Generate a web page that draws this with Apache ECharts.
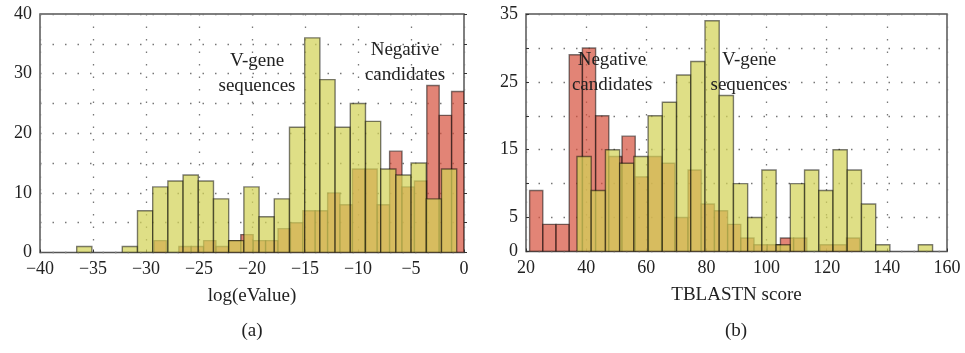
<!DOCTYPE html>
<html>
<head>
<meta charset="utf-8">
<script src="https://cdn.jsdelivr.net/npm/echarts@6/dist/echarts.min.js"></script>
<style>
  html, body { margin: 0; background: #fff; }
  #chart { width: 965px; height: 353px; }
</style>
</head>
<body>
<div id="chart"></div>
<script>
// (a) log(eValue): bin start, bin width, counts per bin
const evalVgeneStart = -36.54;
const evalVgeneWidth = 1.434;
const evalVgeneCounts = [1, 0, 0, 1, 7, 11, 12, 13, 12, 9, 2, 11, 6, 9, 21, 36, 29, 21, 25, 22, 14, 13, 15, 9, 14];
const evalNegStart = -29.245;
const evalNegWidth = 1.1698;
const evalNegCounts = [2, 0, 1, 1, 2, 1, 2, 3, 2, 2, 4, 5, 7, 7, 10, 8, 14, 14, 8, 17, 11, 12, 28, 23, 27];

// (b) TBLASTN score
const scoreVgeneStart = 36.95;
const scoreVgeneWidth = 4.73;
const scoreVgeneCounts = [14, 9, 15, 13, 14, 20, 22, 26, 28, 34, 23, 10, 5, 12, 1, 10, 12, 9, 15, 12, 7, 1, 0, 0, 1];
const scoreNegStart = 21.2;
const scoreNegWidth = 4.39;
const scoreNegCounts = [9, 4, 4, 29, 30, 20, 14, 17, 11, 14, 13, 5, 12, 7, 6, 4, 2, 1, 1, 2, 2, 0, 1, 1, 2];

const FONT = "Liberation Serif";
const RED = "rgba(214,80,60,0.7)";
const YELLOW = "rgba(211,211,88,0.72)";
const EDGE = "rgba(0,0,0,0.5)";

function bins(start, width, counts) {
  return counts.map((c, i) => [start + i * width, start + (i + 1) * width, c]);
}

function histSeries(idx, data, fill) {
  return {
    type: "custom",
    xAxisIndex: idx,
    yAxisIndex: idx,
    clip: true,
    encode: { x: [0, 1], y: 2 },
    data: data,
    renderItem: (params, api) => {
      const h = api.value(2);
      if (!h) return null;
      const a = api.coord([api.value(0), h]);
      const b = api.coord([api.value(1), 0]);
      return {
        type: "rect",
        shape: { x: a[0], y: a[1], width: b[0] - a[0], height: b[1] - a[1] },
        style: { fill: fill, stroke: EDGE, lineWidth: 1.4 },
      };
    },
  };
}

const minus = (v) => String(v).replace("-", "\u2212");
const dots = { color: "#777", width: 1.3, type: [1.5, 11] };

function xAxis(idx, min, max, interval, name) {
  return {
    type: "value",
    gridIndex: idx,
    min: min,
    max: max,
    interval: interval,
    name: name,
    nameLocation: "middle",
    nameGap: 34,
    nameTextStyle: { fontFamily: FONT, fontSize: 19, color: "#222" },
    axisLine: { show: false },
    axisTick: { show: true, inside: true, length: 3, lineStyle: { color: "#333" } },
    axisLabel: { fontFamily: FONT, fontSize: 18, color: "#222", margin: 8, formatter: minus },
    splitLine: { show: true, lineStyle: dots },
  };
}

function yAxis(idx, max, labels) {
  return {
    type: "value",
    gridIndex: idx,
    min: 0,
    max: max,
    interval: 5,
    axisLine: { show: false },
    axisTick: { show: true, inside: true, length: 3, lineStyle: { color: "#333" } },
    axisLabel: {
      fontFamily: FONT,
      fontSize: 18,
      color: "#222",
      margin: 8,
      formatter: (v) => (labels.includes(v) ? String(v) : ""),
    },
    splitLine: { show: true, lineStyle: dots },
  };
}

function label(text, x, y) {
  return {
    type: "text",
    x: x,
    y: y,
    z: 100,
    style: {
      text: text,
      fill: "#222",
      font: "19px " + FONT,
      textAlign: "center",
      textVerticalAlign: "middle",
      lineHeight: 25,
    },
  };
}

const chart = echarts.init(document.getElementById("chart"));
chart.setOption({
  animation: false,
  grid: [
    { left: 40, top: 14, width: 424, height: 238.5, show: true, borderColor: "#555", borderWidth: 1.5 },
    { left: 526, top: 14, width: 421, height: 237.5, show: true, borderColor: "#555", borderWidth: 1.5 },
  ],
  xAxis: [
    xAxis(0, -40, 0, 5, "log(eValue)"),
    xAxis(1, 20, 160, 20, "TBLASTN score"),
  ],
  yAxis: [
    yAxis(0, 40, [0, 10, 20, 30, 40]),
    yAxis(1, 35, [0, 5, 15, 25, 35]),
  ],
  series: [
    histSeries(0, bins(evalNegStart, evalNegWidth, evalNegCounts), RED),
    histSeries(0, bins(evalVgeneStart, evalVgeneWidth, evalVgeneCounts), YELLOW),
    histSeries(1, bins(scoreNegStart, scoreNegWidth, scoreNegCounts), RED),
    histSeries(1, bins(scoreVgeneStart, scoreVgeneWidth, scoreVgeneCounts), YELLOW),
  ],
  graphic: [
    label("V-gene\nsequences", 257, 74),
    label("Negative\ncandidates", 405, 63),
    label("Negative\ncandidates", 612, 73),
    label("V-gene\nsequences", 749, 73),
    label("(a)", 252, 331),
    label("(b)", 736, 331),
  ],
});
</script>
</body>
</html>
